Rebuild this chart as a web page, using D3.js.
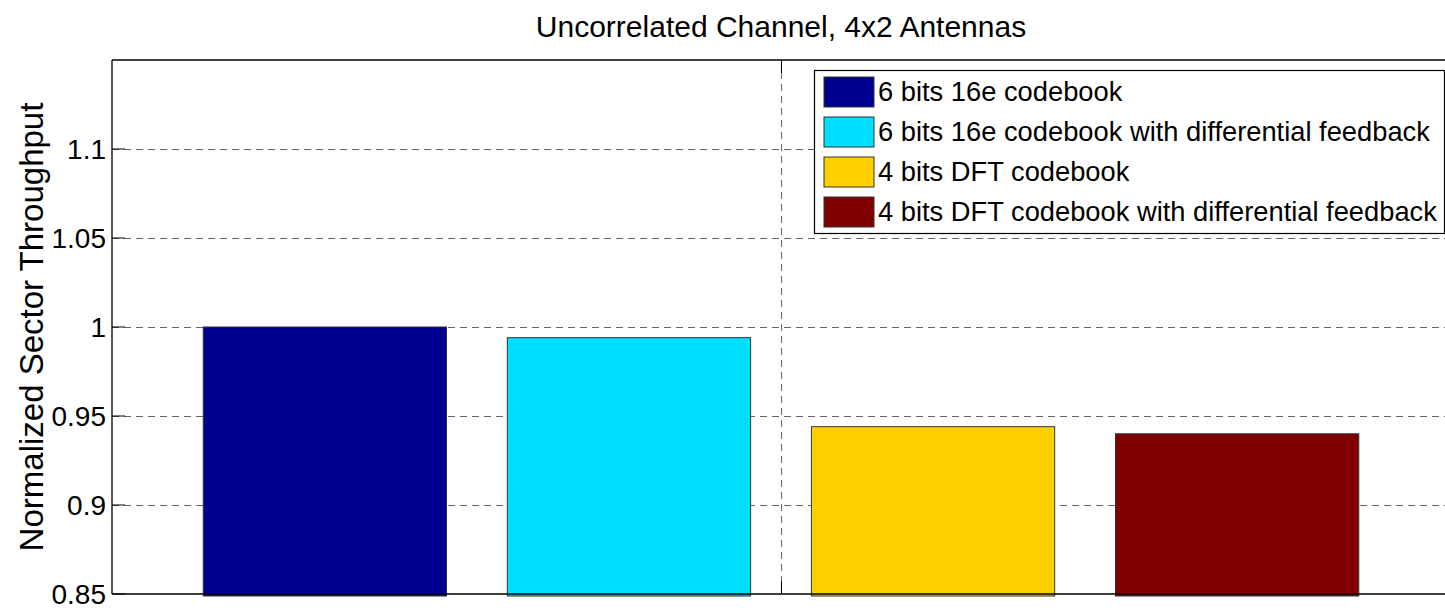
<!DOCTYPE html>
<html>
<head>
<meta charset="utf-8">
<script src="https://cdn.jsdelivr.net/npm/d3@7/dist/d3.min.js"></script>
<style>
  html, body { margin: 0; padding: 0; background: #fff; }
  svg { display: block; font-family: "Liberation Sans", Arial, sans-serif; }
</style>
</head>
<body>
<svg id="chart" width="1445" height="610"></svg>
<script>
// ---- data ----
const categories = [
  "6 bits 16e codebook",
  "6 bits 16e codebook with differential feedback",
  "4 bits DFT codebook",
  "4 bits DFT codebook with differential feedback"
];
const xPositions = [1, 2, 3, 4];
const values = [1.000, 0.994, 0.944, 0.940];
const colors = ["#000090", "#00DFFF", "#FFCF00", "#800000"];
const yTicks = [0.85, 0.9, 0.95, 1, 1.05, 1.1];
const yTickLabels = ["0.85", "0.9", "0.95", "1", "1.05", "1.1"];
const xGridTicks = [2.5];
const titleText = "Uncorrelated Channel, 4x2 Antennas";
const yLabelText = "Normalized Sector Throughput";

// ---- layout ----
const W = 1445, H = 610;
const L = 112, R = 1450, T = 60, B = 594;
const tickLen = 13;

const svg = d3.select("#chart");
const x = d3.scaleLinear().domain([0.3, 4.7]).range([L, R]);
const y = d3.scaleLinear().domain([0.85, 1.15]).range([B, T]);
const barW = x(0.8) - x(0);

// grid lines
const grid = svg.append("g").attr("stroke", "#666").attr("stroke-width", 1)
  .attr("stroke-dasharray", "7,5").attr("shape-rendering", "crispEdges");
grid.selectAll("line.h").data(yTicks.filter(v => v > 0.85)).join("line")
  .attr("class", "h")
  .attr("x1", L).attr("x2", R)
  .attr("y1", d => Math.round(y(d)) + 0.5).attr("y2", d => Math.round(y(d)) + 0.5);
grid.selectAll("line.v").data(xGridTicks).join("line")
  .attr("class", "v")
  .attr("x1", d => Math.round(x(d)) + 0.5).attr("x2", d => Math.round(x(d)) + 0.5)
  .attr("y1", T).attr("y2", B);

// bars
svg.append("g").selectAll("rect").data(values).join("rect")
  .attr("x", (d, i) => x(xPositions[i]) - barW / 2)
  .attr("width", barW)
  .attr("y", d => y(d))
  .attr("height", d => y(0.85) - y(d) + 2)
  .attr("fill", (d, i) => colors[i])
  .attr("stroke", "#333")
  .attr("stroke-width", 1);

// axes box lines
const ax = svg.append("g").attr("stroke", "#000").attr("stroke-width", 1.3).attr("fill", "none");
ax.append("line").attr("x1", L).attr("x2", R).attr("y1", B).attr("y2", B);
ax.append("line").attr("x1", L).attr("x2", R).attr("y1", T).attr("y2", T);
ax.append("line").attr("x1", L).attr("x2", L).attr("y1", T).attr("y2", B);
ax.append("line").attr("x1", R).attr("x2", R).attr("y1", T).attr("y2", B);

// y ticks (inside) and labels
const yt = svg.append("g");
yt.selectAll("line").data(yTicks).join("line")
  .attr("x1", L).attr("x2", L + tickLen)
  .attr("y1", d => y(d)).attr("y2", d => y(d))
  .attr("stroke", "#000").attr("stroke-width", 1);
yt.selectAll("text").data(yTicks).join("text")
  .attr("x", L - 6)
  .attr("y", d => y(d))
  .attr("dy", "0.36em")
  .attr("text-anchor", "end")
  .attr("font-size", 28)
  .attr("fill", "#000")
  .text((d, i) => yTickLabels[i]);

// x ticks (inside, bottom and top)
const xt = svg.append("g").attr("stroke", "#000").attr("stroke-width", 1);
xt.selectAll("line.b").data(xGridTicks).join("line").attr("class", "b")
  .attr("x1", d => Math.round(x(d)) + 0.5).attr("x2", d => Math.round(x(d)) + 0.5)
  .attr("y1", B).attr("y2", B - tickLen);
xt.selectAll("line.t").data(xGridTicks).join("line").attr("class", "t")
  .attr("x1", d => Math.round(x(d)) + 0.5).attr("x2", d => Math.round(x(d)) + 0.5)
  .attr("y1", T).attr("y2", T + tickLen);

// title
svg.append("text")
  .attr("x", (L + R) / 2).attr("y", 37)
  .attr("text-anchor", "middle")
  .attr("font-size", 30)
  .attr("fill", "#000")
  .text(titleText);

// y label
svg.append("text")
  .attr("transform", `translate(43, ${(T + B) / 2}) rotate(-90)`)
  .attr("text-anchor", "middle")
  .attr("font-size", 33)
  .attr("fill", "#000")
  .text(yLabelText);

// legend
const lg = svg.append("g");
const lgX = 814, lgY = 70, lgW = 630, lgH = 163, rowH = 40;
lg.append("rect").attr("x", lgX + 0.5).attr("y", lgY + 0.5).attr("width", lgW).attr("height", lgH)
  .attr("fill", "#fff").attr("stroke", "#000").attr("stroke-width", 1.2);
const rows = lg.selectAll("g.row").data(categories).join("g").attr("class", "row")
  .attr("transform", (d, i) => `translate(${lgX + 10}, ${lgY + 7 + i * rowH})`);
rows.append("rect").attr("x", 0).attr("y", 0).attr("width", 50).attr("height", 30)
  .attr("fill", (d, i) => colors[i]).attr("stroke", "#333").attr("stroke-width", 1);
rows.append("text").attr("x", 54).attr("y", 24)
  .attr("font-size", 27.3).attr("fill", "#000")
  .text(d => d);
</script>
</body>
</html>
